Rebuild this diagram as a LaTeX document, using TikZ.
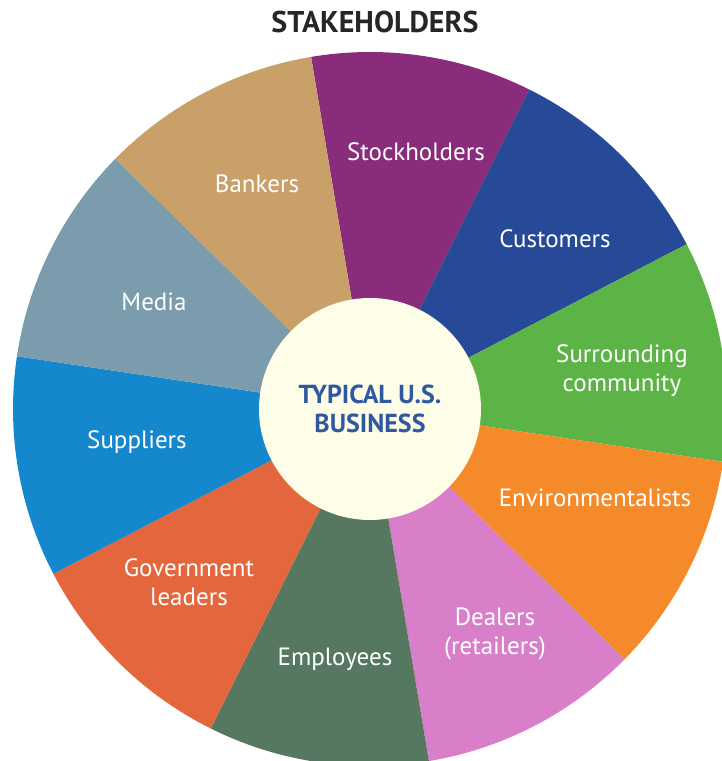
\documentclass[tikz,border=0pt]{standalone}
\usepackage{fontspec}
\setmainfont{PT Sans}

\definecolor{bankers}{RGB}{201,160,104}
\definecolor{stockholders}{RGB}{138,44,124}
\definecolor{customers}{RGB}{38,74,152}
\definecolor{community}{RGB}{92,180,70}
\definecolor{environment}{RGB}{245,138,42}
\definecolor{dealers}{RGB}{217,126,200}
\definecolor{employees}{RGB}{86,120,96}
\definecolor{government}{RGB}{228,102,60}
\definecolor{suppliers}{RGB}{20,135,205}
\definecolor{media}{RGB}{122,156,172}
\definecolor{hub}{RGB}{253,253,232}
\definecolor{hubtext}{RGB}{46,88,160}

\tikzset{
  lbl/.style={text=white, align=center, font=\fontsize{25}{29}\selectfont},
  hubtxt/.style={text=hubtext, align=center, font=\fontsize{26}{29}\selectfont\bfseries},
}

\begin{document}
\begin{tikzpicture}[x=1pt, y=1pt]
				\useasboundingbox (0, 0) rectangle (722, 761);
				\clip (0, 0) rectangle (722, 761);
				\coordinate (O) at (370, 352);
				
				\fill[stockholders] (O) -- ++(99.5:357) arc[start angle=99.5, end angle=63.5, radius=357] -- cycle;
				\fill[customers] (O) -- ++(63.5:357) arc[start angle=63.5, end angle=27.5, radius=357] -- cycle;
				\fill[community] (O) -- ++(27.5:357) arc[start angle=27.5, end angle=-8.5, radius=357] -- cycle;
				\fill[environment] (O) -- ++(-8.5:357) arc[start angle=-8.5, end angle=-44.5, radius=357] -- cycle;
				\fill[dealers] (O) -- ++(-44.5:357) arc[start angle=-44.5, end angle=-80.5, radius=357] -- cycle;
				\fill[employees] (O) -- ++(-80.5:357) arc[start angle=-80.5, end angle=-116.5, radius=357] -- cycle;
				\fill[government] (O) -- ++(-116.5:357) arc[start angle=-116.5, end angle=-152.5, radius=357] -- cycle;
				\fill[suppliers] (O) -- ++(-152.5:357) arc[start angle=-152.5, end angle=-188.5, radius=357] -- cycle;
				\fill[media] (O) -- ++(171.5:357) arc[start angle=171.5, end angle=135.5, radius=357] -- cycle;
				\fill[bankers] (O) -- ++(135.5:357) arc[start angle=135.5, end angle=99.5, radius=357] -- cycle;
				
				\fill[hub] (O) circle (111);
				
				\node[hubtxt] (business) at (O) {TYPICAL U.S.\\BUSINESS};
				
				\node[lbl] (stockholders) at (416, 609) {Stockholders};
				\node[lbl] (customers) at (555, 522) {Customers};
				\node[lbl] (community) at (622, 390) {Surrounding\\community};
				\node[lbl] (environmentalists) at (595, 263) {Environmentalists};
				\node[lbl] (dealers) at (495, 127) {Dealers\\(retailers)};
				\node[lbl] (employees) at (335, 102) {Employees};
				\node[lbl] (government) at (189, 179) {Government\\leaders};
				\node[lbl] (suppliers) at (137, 319) {Suppliers};
				\node[lbl] (media) at (154, 459) {Media};
				\node[lbl] (bankers) at (257, 577) {Bankers};
				
				\node[text=black!85, font=\fontsize{30}{34}\selectfont\bfseries] (title) at (375, 739) {STAKEHOLDERS};
			\end{tikzpicture}
\end{document}
